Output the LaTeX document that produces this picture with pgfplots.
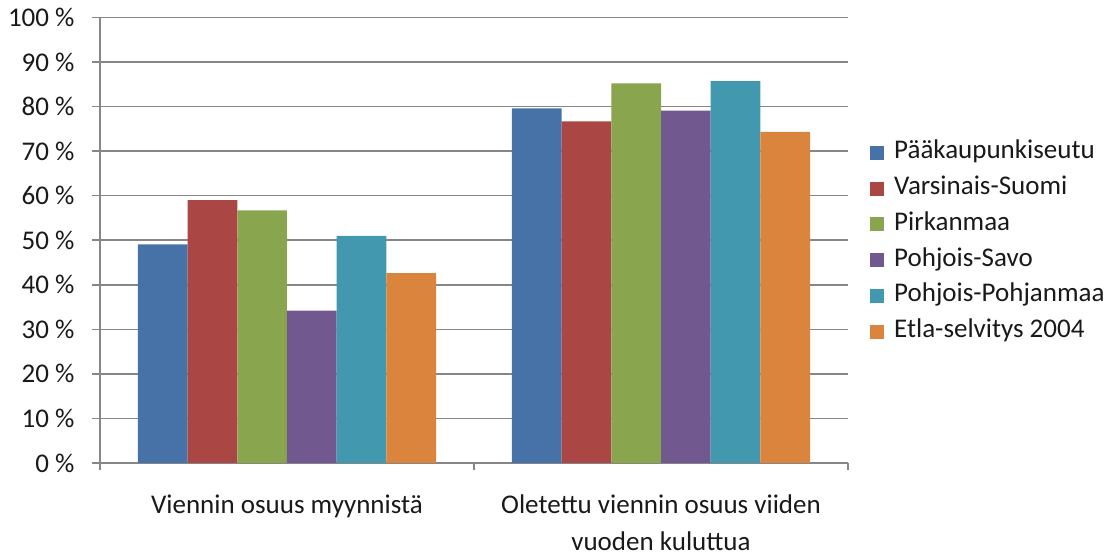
\documentclass[border=0pt]{standalone}
\usepackage{fontspec}
\setmainfont{Carlito}
\usepackage{pgfplots}
\pgfplotsset{compat=1.18}
\definecolor{c1}{HTML}{4672A8}
\definecolor{c2}{HTML}{AA4643}
\definecolor{c3}{HTML}{89A54E}
\definecolor{c4}{HTML}{71588F}
\definecolor{c5}{HTML}{4198AF}
\definecolor{c6}{HTML}{DB843D}
\definecolor{gridc}{HTML}{868686}
\newcommand{\cf}{\fontsize{27}{37}\selectfont}
\begin{document}
\begin{tikzpicture}
\useasboundingbox (-100pt,-93pt) rectangle (1009pt,463pt);
\begin{axis}[
  at={(0pt,0pt)}, anchor=south west,
  scale only axis, width=748pt, height=445.5pt,
  xmin=-0.5, xmax=1.5, ymin=0, ymax=100,
  enlargelimits=false,
  ybar=0pt, bar width=0.1329,
  xtick={0,1},
  xticklabels={Viennin osuus myynnistä, {Oletettu viennin osuus viiden\\vuoden kuluttua}},
  xticklabel style={align=center, font=\cf, text=black!90, anchor=north, yshift=-20pt},
  major x tick style={draw=none},
  minor xtick={-0.5,0.5,1.5},
  ytick={0,10,...,100},
  yticklabels={0 \%,10 \%,20 \%,30 \%,40 \%,50 \%,60 \%,70 \%,80 \%,90 \%,100 \%},
  yticklabel style={font=\cf, text=black!90, anchor=east, xshift=-14pt},
  ymajorgrids, grid style={gridc, line width=1.5pt},
  axis x line*=bottom, axis y line*=left,
  axis line style={gridc, line width=1.5pt, -},
  tick style={gridc, line width=1.5pt},
  tick align=outside, major tick length=8pt, minor tick length=7pt,
  legend style={draw=none, fill=none, at={(1,0.4955)}, anchor=west, xshift=19pt,
    font=\cf, text=black!90, row sep=11.8pt,
    nodes={inner sep=0pt, text height=18pt, text depth=6pt},
    /tikz/every odd column/.append style={column sep=10pt}},
  legend cell align=left,
  legend image code/.code={\fill[#1] (0pt,-7pt) rectangle (14pt,7pt);},
]
\addplot[fill=c1, draw=none] coordinates {(0,49.1) (1,79.6)};
\addplot[fill=c2, draw=none] coordinates {(0,59.0) (1,76.7)};
\addplot[fill=c3, draw=none] coordinates {(0,56.7) (1,85.2)};
\addplot[fill=c4, draw=none] coordinates {(0,34.2) (1,79.1)};
\addplot[fill=c5, draw=none] coordinates {(0,51.0) (1,85.7)};
\addplot[fill=c6, draw=none] coordinates {(0,42.6) (1,74.3)};
\legend{Pääkaupunkiseutu, Varsinais-Suomi, Pirkanmaa, Pohjois-Savo, Pohjois-Pohjanmaa, Etla-selvitys 2004}
\end{axis}
\end{tikzpicture}
\end{document}
